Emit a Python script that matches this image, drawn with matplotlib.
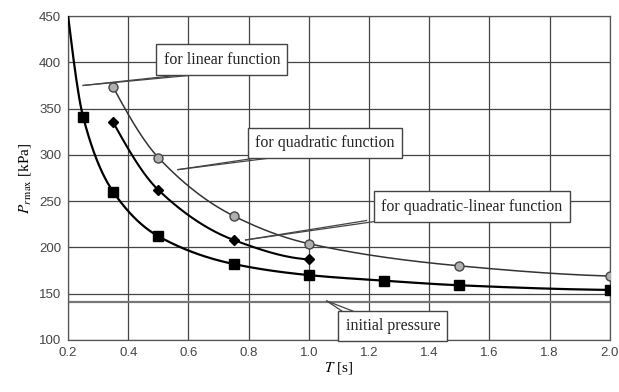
import numpy as np
import matplotlib
matplotlib.use("Agg")
import matplotlib.pyplot as plt

plt.rcParams["mathtext.fontset"] = "stix"

# ---- data ----
T_lin = [0.35, 0.5, 0.75, 1.0, 1.5, 2.0]
P_lin = [373, 297, 234, 204, 180, 169]
T_quad = [0.35, 0.5, 0.75, 1.0]
P_quad = [335, 262, 208, 187]
T_ql = [0.25, 0.35, 0.5, 0.75, 1.0, 1.25, 1.5, 2.0]
P_ql = [341, 260, 212, 182, 170, 164, 159, 154]
T_ql_start = [0.2]
P_ql_start = [450]
P_initial = 141
xticks = [0.2, 0.4, 0.6, 0.8, 1.0, 1.2, 1.4, 1.6, 1.8, 2.0]
yticks = [100, 150, 200, 250, 300, 350, 400, 450]


def pchip(x, y, xn):
    x = np.asarray(x, float); y = np.asarray(y, float)
    h = np.diff(x); d = np.diff(y) / h
    n = len(x)
    m = np.zeros(n)
    for k in range(1, n - 1):
        if d[k - 1] * d[k] > 0:
            w1 = 2 * h[k] + h[k - 1]; w2 = h[k] + 2 * h[k - 1]
            m[k] = (w1 + w2) / (w1 / d[k - 1] + w2 / d[k])
    m[0] = ((2 * h[0] + h[1]) * d[0] - h[0] * d[1]) / (h[0] + h[1]) if n > 2 else d[0]
    if np.sign(m[0]) != np.sign(d[0]): m[0] = 0
    m[-1] = ((2 * h[-1] + h[-2]) * d[-1] - h[-1] * d[-2]) / (h[-1] + h[-2]) if n > 2 else d[-1]
    if np.sign(m[-1]) != np.sign(d[-1]): m[-1] = 0
    out = np.empty_like(xn)
    for i, xv in enumerate(xn):
        k = min(np.searchsorted(x, xv) - 1, n - 2); k = max(k, 0)
        t = (xv - x[k]) / h[k]
        h00 = 2 * t**3 - 3 * t**2 + 1; h10 = t**3 - 2 * t**2 + t
        h01 = -2 * t**3 + 3 * t**2; h11 = t**3 - t**2
        out[i] = h00 * y[k] + h10 * h[k] * m[k] + h01 * y[k + 1] + h11 * h[k] * m[k + 1]
    return out


fig = plt.figure(figsize=(6.19, 3.92), dpi=100)
ax = fig.add_axes([0.110, 0.133, 0.875, 0.826])
ax.set_xlim(0.2, 2.0)
ax.set_ylim(100, 450)
ax.set_xticks(xticks)
ax.set_yticks(yticks)
ax.set_xticklabels([f"{v:.1f}" for v in xticks])
ax.grid(True, color="#444444", lw=0.9)
for s in ax.spines.values():
    s.set_color("#555555"); s.set_linewidth(0.9)
ax.tick_params(length=0, labelsize=9.5, labelcolor="#444444", pad=5)
for lab in ax.get_xticklabels() + ax.get_yticklabels():
    lab.set_family("Liberation Sans")

# initial pressure line
ax.axhline(P_initial, color="#777777", lw=1.6, zorder=2)

# curves
xs = np.linspace(min(T_lin), max(T_lin), 300)
ax.plot(xs, pchip(T_lin, P_lin, xs), color="#333333", lw=1.1, zorder=3)
ax.plot(T_lin, P_lin, "o", ms=6.5, mfc="#b0b0b0", mec="#444444", mew=1.0, zorder=4)

xs = np.linspace(min(T_quad), max(T_quad), 300)
ax.plot(xs, pchip(T_quad, P_quad, xs), color="black", lw=1.5, zorder=3)
ax.plot(T_quad, P_quad, "D", ms=5, color="black", zorder=4)

Tq = T_ql_start + T_ql; Pq = P_ql_start + P_ql
xs = np.linspace(min(Tq), max(Tq), 400)
ax.plot(xs, pchip(Tq, Pq, xs), color="black", lw=1.6, zorder=3)
ax.plot(T_ql, P_ql, "s", ms=7.5, color="black", zorder=4)

# annotations
bbox = dict(boxstyle="square,pad=0.45", fc="white", ec="#444444", lw=1.0)
tfont = dict(family="Liberation Serif", fontsize=11.5, color="#222222")

def label(text, xy_text, xy_target, src_off=(0, 0)):
    ax.text(xy_text[0], xy_text[1], text, ha="center", va="center", bbox=bbox, zorder=6, **tfont)
    sx, sy = xy_text[0] + src_off[0], xy_text[1] + src_off[1]
    ax.plot([sx, xy_target[0]], [sy, xy_target[1]], color="#444444", lw=0.9, zorder=5)
    ax.plot([sx + 0.05, xy_target[0]], [sy, xy_target[1]], color="#444444", lw=0.9, zorder=5)

label("for linear function", (0.711, 403), (0.25, 375), src_off=(-0.12, -16))
label("for quadratic function", (1.053, 313), (0.565, 284), src_off=(-0.22, -16))
label("for quadratic-linear function", (1.542, 244), (0.79, 208), src_off=(-0.35, -15))
label("initial pressure", (1.279, 115), (1.06, 142), src_off=(-0.15, 12))

ax.set_ylabel(r"$P_{r\,\max}$ [kPa]", fontsize=11, family="Liberation Serif", labelpad=4)
ax.set_xlabel(r"$T$ [s]", fontsize=11, family="Liberation Serif", labelpad=1)

fig.savefig("out.png", dpi=100)
